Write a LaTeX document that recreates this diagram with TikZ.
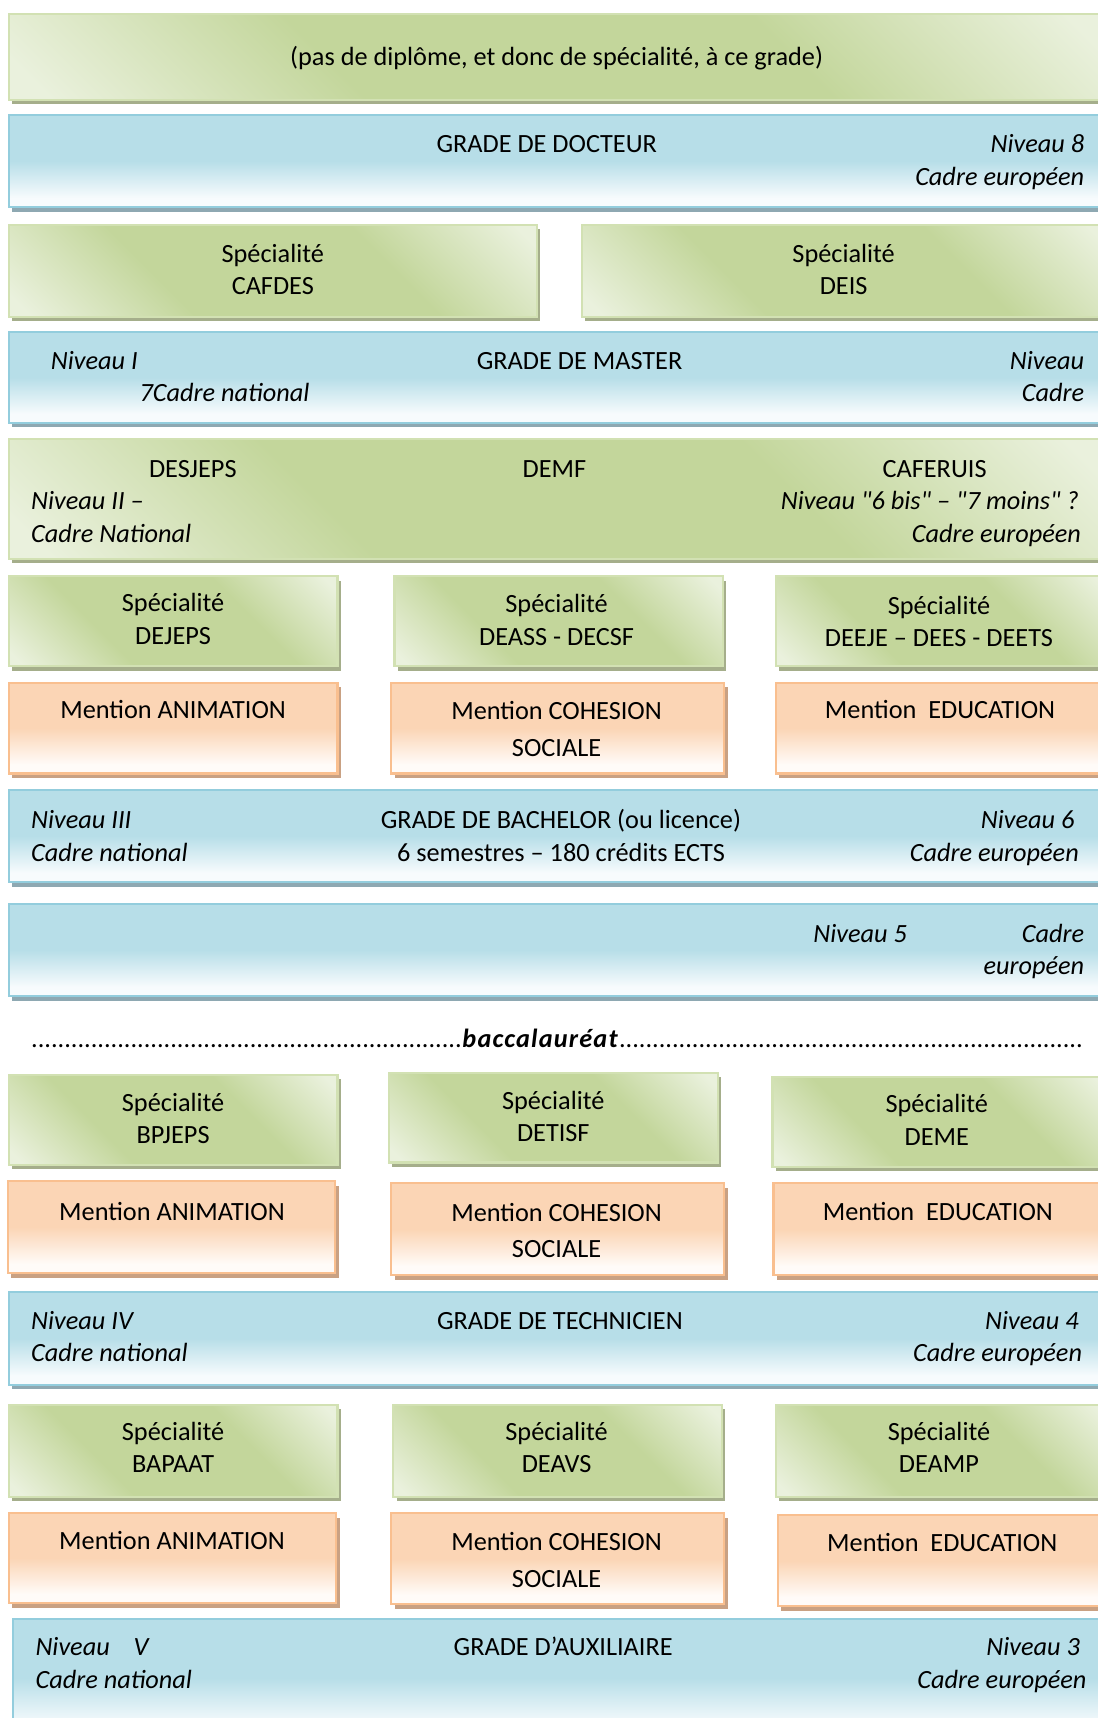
\documentclass[tikz,border=0pt]{standalone}
\usepackage{fontspec}
\setmainfont{Carlito}[Ligatures=TeXOff]
\usetikzlibrary{fit,shadows}

\definecolor{greenmd}{HTML}{C3D69B}
\definecolor{greenlt}{HTML}{EAF1DD}
\definecolor{greenline}{HTML}{D2E1B3}
\definecolor{greenshade}{HTML}{A5AE8B}
\definecolor{bluetop}{HTML}{B7DEE8}
\definecolor{bluebot}{HTML}{F7FBFD}
\definecolor{blueline}{HTML}{93CDDD}
\definecolor{blueshade}{HTML}{8EA8B2}
\definecolor{orangetop}{HTML}{FBD5B5}
\definecolor{orangebot}{HTML}{FFFBF8}
\definecolor{orangeline}{HTML}{F9BF8F}
\definecolor{orangeshade}{HTML}{C9A183}

\pgfdeclareverticalshading{greenband}{100bp}{color(0bp)=(greenlt); color(17bp)=(greenlt); color(36bp)=(greenmd); color(64bp)=(greenmd); color(83bp)=(greenlt); color(100bp)=(greenlt)}
\pgfdeclareverticalshading{blueband}{100bp}{color(0bp)=(bluebot); color(30bp)=(bluebot); color(50bp)=(bluetop); color(100bp)=(bluetop)}
\pgfdeclareverticalshading{orangeband}{100bp}{color(0bp)=(orangebot); color(30bp)=(orangebot); color(50bp)=(orangetop); color(100bp)=(orangetop)}

\newcommand\dotrun[1]{\foreach \d in {1,...,#1}{.}}

\begin{document}
\begin{tikzpicture}[x=0.4585pt, y=-0.4585pt,
    every node/.style={font=\fontsize{11}{13.6}\selectfont, inner sep=0pt},
    box/.style={rectangle, inner sep=0pt, line width=0.9pt},
    greenbox/.style={box, draw=greenline, shading=greenband, shading angle=-45,
      drop shadow={shadow xshift=1.4pt, shadow yshift=-1.9pt, fill=greenshade, opacity=1}},
    bluebox/.style={box, draw=blueline, shading=blueband,
      drop shadow={shadow xshift=1.4pt, shadow yshift=-1.9pt, fill=blueshade, opacity=1}},
    orangebox/.style={box, draw=orangeline, shading=orangeband,
      drop shadow={shadow xshift=1.4pt, shadow yshift=-1.9pt, fill=orangeshade, opacity=1}},
    ctext/.style={anchor=base},
    ltext/.style={anchor=base west},
    rtext/.style={anchor=base east},
    niv/.style={font=\fontsize{11}{13.6}\selectfont\itshape}]

  \useasboundingbox (0,0) rectangle (1002,1568);
  \clip (0,0) rectangle (1002,1568);

  % boxes
  \node[greenbox, fit={(8,13) (1012,91)}] (nodiploma) {};
  \node[bluebox, fit={(8,105) (1012,189)}] (docteur) {};
  \node[greenbox, fit={(8,205) (490,289)}] (cafdes) {};
  \node[greenbox, fit={(531,205) (1012,289)}] (deis) {};
  \node[bluebox, fit={(8,303) (1012,386)}] (master) {};
  \node[greenbox, fit={(8,401) (1012,510)}] (desjeps) {};
  \node[greenbox, fit={(8,526) (308,608)}] (dejeps) {};
  \node[greenbox, fit={(360,526) (660,608)}] (deass) {};
  \node[greenbox, fit={(708,526) (1012,608)}] (deeje) {};
  \node[orangebox, fit={(8,623) (308,706)}] (animsup) {};
  \node[orangebox, fit={(357,623) (661,706)}] (cohsup) {};
  \node[orangebox, fit={(708,623) (1012,706)}] (edusup) {};
  \node[bluebox, fit={(8,721) (1012,805)}] (bachelor) {};
  \node[bluebox, fit={(8,825) (1012,909)}] (niveaucinq) {};
  \node[greenbox, fit={(8,981) (308,1063)}] (bpjeps) {};
  \node[greenbox, fit={(355,979) (655,1061)}] (detisf) {};
  \node[greenbox, fit={(705,983) (1012,1065)}] (deme) {};
  \node[orangebox, fit={(7,1078) (306,1162)}] (animmid) {};
  \node[orangebox, fit={(357,1080) (661,1164)}] (cohmid) {};
  \node[orangebox, fit={(706,1080) (1012,1164)}] (edumid) {};
  \node[bluebox, fit={(8,1179) (1012,1264)}] (technicien) {};
  \node[greenbox, fit={(8,1282) (308,1366)}] (bapaat) {};
  \node[greenbox, fit={(359,1282) (659,1366)}] (deavs) {};
  \node[greenbox, fit={(708,1282) (1012,1366)}] (deamp) {};
  \node[orangebox, fit={(8,1381) (307,1463)}] (animinf) {};
  \node[orangebox, fit={(357,1381) (661,1464)}] (cohinf) {};
  \node[orangebox, fit={(710,1383) (1012,1466)}] (eduinf) {};
  \node[bluebox, fit={(12,1478) (1012,1585)}] (auxiliaire) {};

  % top
  \node (tnodiploma) at (508,53) {(pas de diplôme, et donc de spécialité, à ce grade)};
  \node[ctext] (tdocteur) at (499,139) {GRADE DE DOCTEUR};
  \node[rtext, niv] (ndocteur) at (990,139) {Niveau 8};
  \node[rtext, niv] (cdocteur) at (990,169) {Cadre européen};
  \node[align=center] (tcafdes) at (249,246) {Spécialité\\CAFDES};
  \node[align=center] (tdeis) at (770,246) {Spécialité\\DEIS};
  \node[ltext, niv] (nmaster) at (46,337) {Niveau I};
  \node[ltext, niv] (cmaster) at (127,366) {7Cadre national};
  \node[ctext] (tmaster) at (529,337) {GRADE DE MASTER};
  \node[rtext, niv] (nmastereu) at (990,337) {Niveau};
  \node[rtext, niv] (cmastereu) at (990,366) {Cadre};
  \node[ctext] (tdesjeps) at (176,436) {DESJEPS};
  \node[ctext] (tdemf) at (506,436) {DEMF};
  \node[ctext] (tcaferuis) at (853,436) {CAFERUIS};
  \node[ltext, niv] (ndesjeps) at (28,465) {Niveau II –};
  \node[ltext, niv] (cdesjeps) at (28,495) {Cadre National};
  \node[rtext, niv] (ncaferuis) at (985,465) {Niveau "6 bis" – "7 moins" ?};
  \node[rtext, niv] (ccaferuis) at (987,495) {Cadre européen};

  % niveau II
  \node[align=center] (tdejeps) at (158,565) {Spécialité\\DEJEPS};
  \node[align=center] (tdeass) at (508,566) {Spécialité\\DEASS - DECSF};
  \node[align=center] (tdeeje) at (857,567) {Spécialité\\DEEJE – DEES - DEETS};
  \node[ctext] (tanimsup) at (158,656) {Mention ANIMATION};
  \node[ctext] (tcohsup) at (508,657) {Mention COHESION};
  \node[ctext] (tsocsup) at (508,690) {SOCIALE};
  \node[ctext] (tedusup) at (858,656) {Mention\ \ EDUCATION};

  % niveau III
  \node[ltext, niv] (nbachelor) at (28,756) {Niveau III};
  \node[ltext, niv] (cbachelor) at (28,786) {Cadre national};
  \node[ctext] (tbachelor) at (512,756) {GRADE DE BACHELOR (ou licence)};
  \node[ctext] (sbachelor) at (512,786) {6 semestres – 180 crédits ECTS};
  \node[rtext, niv] (nbacheloreu) at (981,756) {Niveau 6};
  \node[rtext, niv] (cbacheloreu) at (985,786) {Cadre européen};
  \node[ltext, niv] (ncinq) at (742,860) {Niveau 5};
  \node[rtext, niv] (ccinq) at (990,860) {Cadre};
  \node[rtext, niv] (ecinq) at (990,889) {européen};

  \node[ltext] (bac) at (28,956) {\dotrun{65}\textbf{\itshape\addfontfeature{LetterSpace=4.5}baccalauréat}\dotrun{70}};

  % niveau IV
  \node[align=center] (tbpjeps) at (158,1021) {Spécialité\\BPJEPS};
  \node[align=center] (tdetisf) at (505,1019) {Spécialité\\DETISF};
  \node[align=center] (tdeme) at (855,1022) {Spécialité\\DEME};
  \node[ctext] (tanimmid) at (157,1114) {Mention ANIMATION};
  \node[ctext] (tcohmid) at (508,1115) {Mention COHESION};
  \node[ctext] (tsocmid) at (508,1148) {SOCIALE};
  \node[ctext] (tedumid) at (856,1114) {Mention\ \ EDUCATION};
  \node[ltext, niv] (ntechnicien) at (28,1213) {Niveau IV};
  \node[ltext, niv] (ctechnicien) at (28,1243) {Cadre national};
  \node[ctext] (ttechnicien) at (511,1213) {GRADE DE TECHNICIEN};
  \node[rtext, niv] (ntechnicieneu) at (985,1213) {Niveau 4};
  \node[rtext, niv] (ctechnicieneu) at (988,1243) {Cadre européen};

  % niveau V
  \node[align=center] (tbapaat) at (158,1321) {Spécialité\\BAPAAT};
  \node[align=center] (tdeavs) at (508,1321) {Spécialité\\DEAVS};
  \node[align=center] (tdeamp) at (857,1321) {Spécialité\\DEAMP};
  \node[ctext] (taniminf) at (157,1414) {Mention ANIMATION};
  \node[ctext] (tcohinf) at (508,1415) {Mention COHESION};
  \node[ctext] (tsocinf) at (508,1449) {SOCIALE};
  \node[ctext] (teduinf) at (860,1416) {Mention\ \ EDUCATION};
  \node[ltext, niv] (nauxiliaire) at (32,1511) {Niveau\ \ \ \ V};
  \node[ltext, niv] (cauxiliaire) at (32,1541) {Cadre national};
  \node[ctext] (tauxiliaire) at (514,1511) {GRADE D’AUXILIAIRE};
  \node[rtext, niv] (nauxiliaireeu) at (986,1511) {Niveau 3};
  \node[rtext, niv] (cauxiliaireeu) at (992,1541) {Cadre européen};
\end{tikzpicture}
\end{document}
